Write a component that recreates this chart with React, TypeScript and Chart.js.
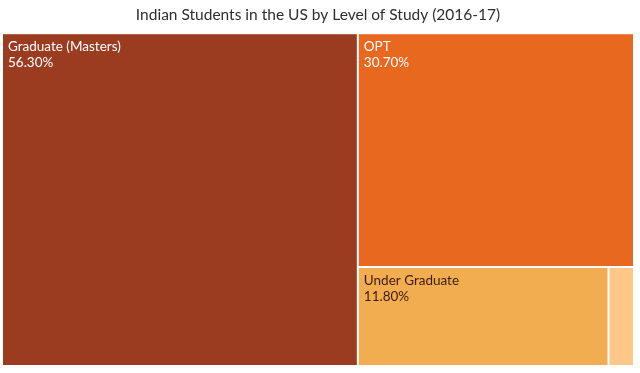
import React, { useEffect, useRef } from 'react';
import { Chart, registerables } from 'chart.js';

Chart.register(...registerables);

const titleText = 'Indian Students in the US by Level of Study (2016-17)';
const categories = ['Graduate (Masters)', 'OPT', 'Under Graduate', 'Other'];
const shares = [56.3, 30.7, 11.8, 1.2];
const shareLabels = ['56.30%', '30.70%', '11.80%', ''];
const colors = ['#9b3b20', '#e8681f', '#f2ad50', '#fdc787'];
const labelColors = ['#ffffff', '#ffffff', '#3a1c0c', '#3a1c0c'];
const showLabel = [true, true, true, false];

type Cell = { i: number; x0: number; y0: number; x1: number; y1: number };

const treemapPlugin = {
  id: 'treemapCells',
  afterDatasetsDraw(chart: any) {
    const xs = chart.scales.x;
    const ys = chart.scales.y;
    const px = (v: number) => xs.getPixelForValue(v);
    const py = (v: number) => ys.getPixelForValue(v);
    const cells: Cell[] = [];
    const layout = (idx: number[], x0: number, y0: number, x1: number, y1: number) => {
      if (idx.length === 1) {
        cells.push({ i: idx[0], x0, y0, x1, y1 });
        return;
      }
      const total = idx.reduce((s, k) => s + shares[k], 0);
      const f = shares[idx[0]] / total;
      const pw = Math.abs(px(x1) - px(x0));
      const ph = Math.abs(py(y1) - py(y0));
      if (pw >= ph) {
        const xm = x0 + (x1 - x0) * f;
        cells.push({ i: idx[0], x0, y0, x1: xm, y1 });
        layout(idx.slice(1), xm, y0, x1, y1);
      } else {
        const ym = y0 + (y1 - y0) * f;
        cells.push({ i: idx[0], x0, y0, x1, y1: ym });
        layout(idx.slice(1), x0, ym, x1, y1);
      }
    };
    layout(categories.map((_, k) => k), 0, 0, 100, 100);
    const ctx = chart.ctx;
    ctx.save();
    cells.forEach((c) => {
      const l = Math.min(px(c.x0), px(c.x1));
      const r = Math.max(px(c.x0), px(c.x1));
      const t = Math.min(py(c.y0), py(c.y1));
      const b = Math.max(py(c.y0), py(c.y1));
      ctx.fillStyle = colors[c.i];
      ctx.fillRect(l + 1, t + 1, r - l - 2, b - t - 2);
      if (showLabel[c.i]) {
        ctx.fillStyle = labelColors[c.i];
        ctx.font = '13.5px Lato';
        ctx.textAlign = 'left';
        ctx.textBaseline = 'middle';
        ctx.fillText(categories[c.i], l + 6, t + 13.5);
        ctx.fillText(shareLabels[c.i], l + 6, t + 29.5);
      }
    });
    ctx.restore();
  },
};

export default function App() {
  const ref = useRef<HTMLCanvasElement | null>(null);
  useEffect(() => {
    document.body.style.margin = '0';
    const canvas = ref.current;
    if (!canvas) return;
    const chart = new Chart(canvas, {
      type: 'scatter',
      data: { datasets: [{ data: [] }] },
      options: {
        animation: false,
        responsive: false,
        devicePixelRatio: 1,
        layout: { padding: { left: 2, right: 6, bottom: 7, top: 0 } },
        plugins: {
          legend: { display: false },
          tooltip: { enabled: false },
          title: {
            display: true,
            text: titleText,
            color: '#2e2e2e',
            font: { family: 'Lato', size: 15.5, weight: 'normal' },
            padding: { top: 6, bottom: 8.6 },
          },
        },
        scales: {
          x: { type: 'linear', min: 0, max: 100, display: false },
          y: { type: 'linear', min: 0, max: 100, display: false, reverse: true },
        },
      },
      plugins: [treemapPlugin],
    });
    return () => chart.destroy();
  }, []);
  return (
    <div style={{ width: 640, height: 373, background: '#ffffff' }}>
      <canvas ref={ref} width={640} height={373} style={{ display: 'block' }} />
    </div>
  );
}
